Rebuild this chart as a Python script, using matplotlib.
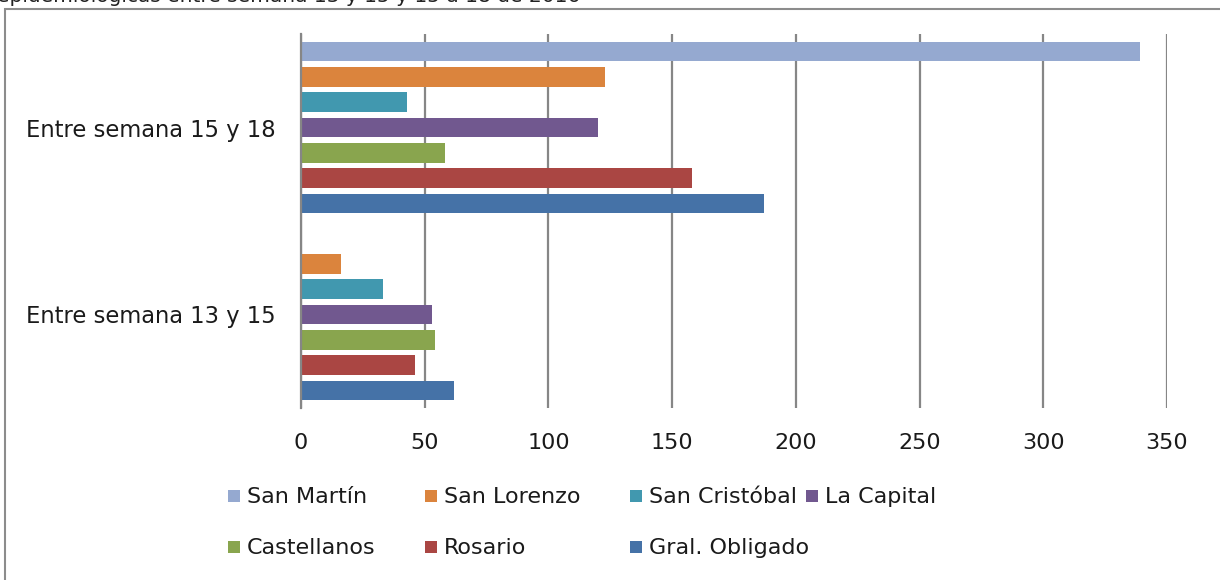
import matplotlib
matplotlib.use("Agg")
import matplotlib.pyplot as plt
import matplotlib.patches as mpatches
import numpy as np

categories = ["Entre semana 13 y 15", "Entre semana 15 y 18"]
series_names = ["San Martín", "San Lorenzo", "San Cristóbal", "La Capital",
                "Castellanos", "Rosario", "Gral. Obligado"]
colors = ["#95A9D0", "#DB843D", "#4198AF", "#71588F", "#89A54E", "#AA4643", "#4572A7"]
values = {
    "San Martín":     [0, 339],
    "San Lorenzo":    [16, 123],
    "San Cristóbal":  [33, 43],
    "La Capital":     [53, 120],
    "Castellanos":    [54, 58],
    "Rosario":        [46, 158],
    "Gral. Obligado": [62, 187],
}
xticks = [0, 50, 100, 150, 200, 250, 300, 350]

W, H = 1220, 580
fig = plt.figure(figsize=(W / 100, H / 100), dpi=100)

# outer chart border (partly cut off)
fig.patches.append(mpatches.Rectangle((4.5 / W, -0.05), 1.2, 1 - 8.5 / H + 0.05,
                                      transform=fig.transFigure, fill=False,
                                      edgecolor="#8c8c8c", linewidth=1.5))
# cut-off text line above the chart
fig.text(-3 / W, 1 - 2 / H, "epidemiológicas entre semana 13 y 15 y 15 a 18 de 2016",
         fontsize=14.5, va="baseline", ha="left", color="#222222")

ax = fig.add_axes([301 / W, 1 - 408 / H, (1167 - 301) / W, (408 - 34) / H])

slot = 1 / 7.39
bar_h = 0.104
ypos = np.arange(len(categories))
for i, name in enumerate(series_names):
    off = (3 - i) * slot
    ax.barh(ypos + off, values[name], height=bar_h, color=colors[i],
            linewidth=0, zorder=3, label=name)

ax.set_xlim(0, 350)
ax.set_ylim(-0.5, 1.5)
ax.set_xticks(xticks)
ax.set_xticklabels([str(t) for t in xticks])
ax.set_yticks(ypos)
ax.set_yticklabels(categories)
ax.tick_params(axis="both", length=0, labelsize=16)
ax.tick_params(axis="x", pad=18)
ax.tick_params(axis="y", labelsize=16.3, pad=18)
for lab in ax.get_xticklabels() + ax.get_yticklabels():
    lab.set_color("#1a1a1a")
for k, s in ax.spines.items():
    s.set_visible(k == "left")
ax.spines["left"].set_color("#868686")
ax.spines["left"].set_linewidth(1.6)
ax.spines["left"].set_zorder(4)
ax.grid(axis="x", color="#868686", linewidth=1.6, zorder=1)
ax.set_axisbelow(True)

# legend laid out like the reference: two rows, fixed column positions
leg_rows = [["San Martín", "San Lorenzo", "San Cristóbal", "La Capital"],
            ["Castellanos", "Rosario", "Gral. Obligado"]]
col_sq_x = [228, 425, 630, 806]
row_y = [497, 548]
sq = 12
for r, row in enumerate(leg_rows):
    for c, nm in enumerate(row):
        x0 = col_sq_x[c]
        yc = row_y[r]
        fig.patches.append(mpatches.Rectangle((x0 / W, 1 - (yc + sq / 2 - 1) / H),
                                              sq / W, sq / H,
                                              transform=fig.transFigure,
                                              facecolor=colors[series_names.index(nm)],
                                              edgecolor="none"))
        fig.text((x0 + sq + 7) / W, 1 - yc / H, nm, fontsize=16, va="center",
                 ha="left", color="#1a1a1a")

fig.savefig("out.png", dpi=100)
